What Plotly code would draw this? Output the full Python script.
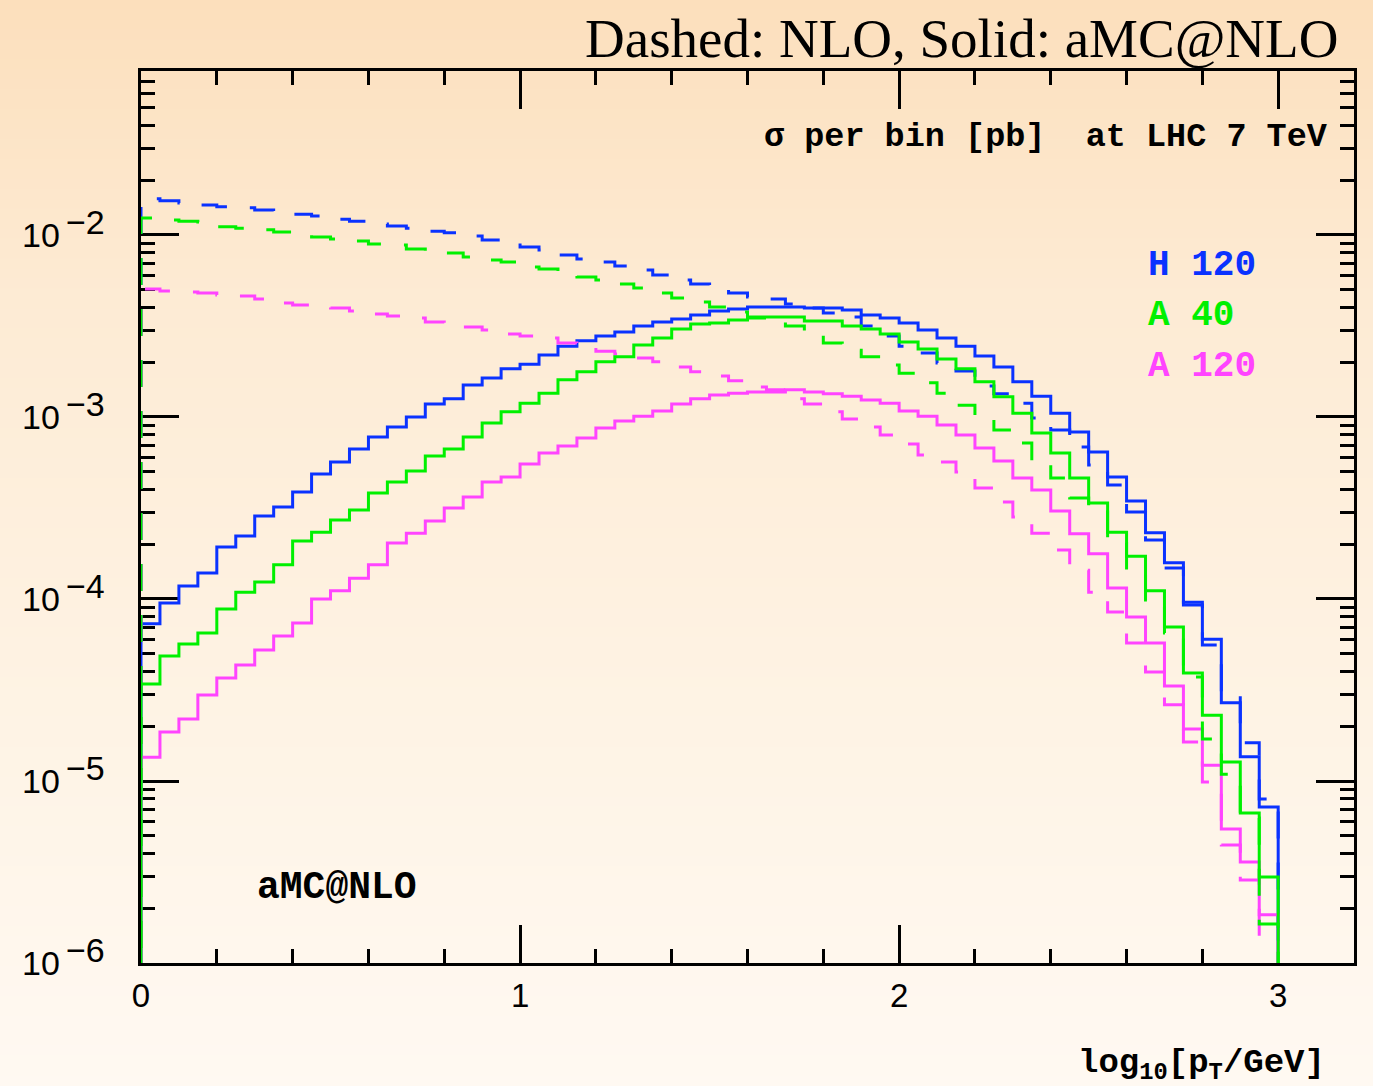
import numpy as np
import plotly.graph_objects as go

# ---- binning: 60 bins of width 0.05 in log10(pT/GeV) ----
BIN_WIDTH = 0.05
N_BINS = 60
bin_edges = np.arange(N_BINS + 1) * BIN_WIDTH

# ---- cross section per bin [pb] ----
h120_amc = [7.3e-5, 9.5e-5, 1.18e-4, 1.39e-4, 1.93e-4, 2.22e-4, 2.86e-4, 3.20e-4, 3.87e-4, 4.86e-4,
            5.66e-4, 6.67e-4, 7.76e-4, 8.81e-4, 1.00e-3, 1.18e-3, 1.26e-3, 1.50e-3, 1.64e-3, 1.84e-3,
            1.95e-3, 2.19e-3, 2.45e-3, 2.62e-3, 2.79e-3, 2.93e-3, 3.16e-3, 3.33e-3, 3.45e-3, 3.63e-3,
            3.82e-3, 3.92e-3, 4.02e-3, 4.02e-3, 4.02e-3, 3.97e-3, 3.97e-3, 3.87e-3, 3.63e-3, 3.50e-3,
            3.28e-3, 3.01e-3, 2.72e-3, 2.45e-3, 2.16e-3, 1.88e-3, 1.56e-3, 1.30e-3, 1.05e-3, 8.28e-4,
            6.43e-4, 4.68e-4, 3.45e-4, 2.31e-4, 1.58e-4, 9.6e-5, 6.0e-5, 2.69e-5, 1.36e-5, 7.2e-6]
h120_nlo = [1.58e-2, 1.54e-2, 1.50e-2, 1.46e-2, 1.43e-2, 1.41e-2, 1.37e-2, 1.34e-2, 1.30e-2, 1.27e-2,
            1.22e-2, 1.19e-2, 1.15e-2, 1.12e-2, 1.09e-2, 1.05e-2, 1.03e-2, 9.87e-3, 9.39e-3, 9.15e-3,
            8.59e-3, 8.27e-3, 7.77e-3, 7.38e-3, 7.11e-3, 6.76e-3, 6.42e-3, 6.03e-3, 5.66e-3, 5.38e-3,
            5.11e-3, 4.80e-3, 4.56e-3, 4.45e-3, 4.18e-3, 3.97e-3, 3.73e-3, 3.54e-3, 3.16e-3, 2.79e-3,
            2.45e-3, 2.25e-3, 1.98e-3, 1.79e-3, 1.48e-3, 1.34e-3, 1.19e-3, 9.87e-4, 8.48e-4, 6.84e-4,
            5.45e-4, 4.23e-4, 3.01e-4, 2.11e-4, 1.48e-4, 9.27e-5, 5.59e-5, 3.04e-5, 1.62e-5, 7.96e-6]
a40_amc = [3.41e-5, 4.86e-5, 5.66e-5, 6.51e-5, 8.81e-5, 1.09e-4, 1.24e-4, 1.54e-4, 2.08e-4, 2.33e-4,
           2.72e-4, 3.08e-4, 3.82e-4, 4.39e-4, 5.05e-4, 6.11e-4, 6.67e-4, 7.76e-4, 9.27e-4, 1.07e-3,
           1.19e-3, 1.35e-3, 1.60e-3, 1.77e-3, 2.01e-3, 2.14e-3, 2.49e-3, 2.72e-3, 3.04e-3, 3.24e-3,
           3.28e-3, 3.41e-3, 3.54e-3, 3.54e-3, 3.54e-3, 3.37e-3, 3.37e-3, 3.16e-3, 3.04e-3, 2.86e-3,
           2.58e-3, 2.36e-3, 2.08e-3, 1.84e-3, 1.56e-3, 1.29e-3, 1.05e-3, 8.17e-4, 6.34e-4, 4.62e-4,
           3.37e-4, 2.33e-4, 1.72e-4, 1.11e-4, 7.02e-5, 3.92e-5, 2.30e-5, 1.27e-5, 6.67e-6, 2.97e-6]
a40_nlo = [1.24e-2, 1.21e-2, 1.19e-2, 1.18e-2, 1.11e-2, 1.09e-2, 1.07e-2, 1.04e-2, 1.03e-2, 9.75e-3,
           9.51e-3, 9.27e-3, 8.92e-3, 8.81e-3, 8.38e-3, 8.17e-3, 7.96e-3, 7.57e-3, 7.29e-3, 7.11e-3,
           6.67e-3, 6.51e-3, 6.11e-3, 5.88e-3, 5.66e-3, 5.38e-3, 5.11e-3, 4.80e-3, 4.51e-3, 4.28e-3,
           4.02e-3, 3.78e-3, 3.50e-3, 3.33e-3, 3.16e-3, 2.82e-3, 2.55e-3, 2.33e-3, 2.14e-3, 1.93e-3,
           1.74e-3, 1.54e-3, 1.35e-3, 1.16e-3, 1.01e-3, 8.48e-4, 7.20e-4, 5.66e-4, 4.62e-4, 3.59e-4,
           3.01e-4, 2.03e-4, 1.44e-4, 9.87e-5, 6.51e-5, 3.73e-5, 1.70e-5, 1.09e-5, 6.26e-6, 1.64e-6]
a120_amc = [1.35e-5, 1.86e-5, 2.19e-5, 2.97e-5, 3.68e-5, 4.34e-5, 5.25e-5, 6.26e-5, 7.38e-5, 1.00e-4,
            1.11e-4, 1.30e-4, 1.54e-4, 2.03e-4, 2.30e-4, 2.68e-4, 3.16e-4, 3.63e-4, 4.39e-4, 4.68e-4,
            5.52e-4, 6.34e-4, 6.93e-4, 7.66e-4, 8.70e-4, 9.51e-4, 1.01e-3, 1.08e-3, 1.18e-3, 1.26e-3,
            1.32e-3, 1.35e-3, 1.37e-3, 1.37e-3, 1.41e-3, 1.37e-3, 1.34e-3, 1.30e-3, 1.24e-3, 1.19e-3,
            1.08e-3, 1.01e-3, 9.04e-4, 7.96e-4, 6.75e-4, 5.73e-4, 4.62e-4, 3.97e-4, 3.04e-4, 2.28e-4,
            1.77e-4, 1.15e-4, 7.96e-5, 5.73e-5, 3.33e-5, 1.93e-5, 1.22e-5, 5.45e-6, 3.59e-6, 1.84e-6]
a120_nlo = [5.05e-3, 4.92e-3, 4.86e-3, 4.80e-3, 4.68e-3, 4.62e-3, 4.45e-3, 4.23e-3, 4.12e-3, 4.02e-3,
            3.97e-3, 3.82e-3, 3.68e-3, 3.59e-3, 3.50e-3, 3.33e-3, 3.20e-3, 3.12e-3, 3.01e-3, 2.86e-3,
            2.79e-3, 2.72e-3, 2.55e-3, 2.42e-3, 2.30e-3, 2.22e-3, 2.11e-3, 2.01e-3, 1.88e-3, 1.77e-3,
            1.68e-3, 1.58e-3, 1.46e-3, 1.41e-3, 1.26e-3, 1.18e-3, 1.07e-3, 9.75e-4, 8.81e-4, 7.96e-4,
            7.11e-4, 6.18e-4, 5.66e-4, 4.99e-4, 4.07e-4, 3.41e-4, 2.82e-4, 2.30e-4, 1.86e-4, 1.44e-4,
            1.09e-4, 8.48e-5, 5.73e-5, 3.97e-5, 2.62e-5, 1.64e-5, 9.87e-6, 4.45e-6, 2.86e-6, 1.34e-6]

series_labels = ["H 120", "A 40", "A 120"]
series_colors = ["#0a32ff", "#00f000", "#ff44ff"]
x_tick_values = [0, 1, 2, 3]
y_decades = [-6, -5, -4, -3, -2]

FLOOR = 1e-9          # below the visible range: histogram edges drop out of the frame
MONO = "Liberation Mono"
SANS = "Liberation Sans"
SERIF = "Liberation Serif"

W, H = 1373, 1086
L, R, T, B = 141, 19, 71, 123
PW, PH = W - L - R, H - T - B


def px_x(p):
    return (p - L) / PW


def px_y(p):
    return (H - B - p) / PH


def step_xy(vals):
    xs = [bin_edges[0]] + list(bin_edges[:-1]) + [bin_edges[-1], bin_edges[-1]]
    ys = [FLOOR] + list(vals) + [vals[-1], FLOOR]
    return xs, ys


fig = go.Figure()

# background: warm vertical gradient over the whole page
stops = [(0, (252, 223, 188)), (300, (253, 235, 212)), (650, (254, 242, 226)), (H, (255, 249, 242))]
n_strips = 109
for i in range(n_strips):
    y0 = i * H / n_strips
    y1 = (i + 1) * H / n_strips
    ym = 0.5 * (y0 + y1)
    for (a, ca), (b, cb) in zip(stops[:-1], stops[1:]):
        if a <= ym <= b:
            t = (ym - a) / (b - a)
            c = tuple(round(ca[k] + t * (cb[k] - ca[k])) for k in range(3))
            break
    fig.add_shape(type="rect", xref="paper", yref="paper",
                  x0=px_x(0), x1=px_x(W), y0=px_y(y1 + 0.5), y1=px_y(y0 - 0.5),
                  fillcolor="rgb(%d,%d,%d)" % c, line_width=0, layer="below")

histograms = [
    (h120_nlo, h120_amc, series_colors[0]),
    (a120_nlo, a120_amc, series_colors[2]),
    (a40_nlo, a40_amc, series_colors[1]),
]
for nlo, amc, col in histograms:
    xs, ys = step_xy(nlo)
    fig.add_trace(go.Scatter(x=xs, y=ys, mode="lines", line_shape="hv",
                             line=dict(color=col, width=3, dash="27px,24px"),
                             showlegend=False, hoverinfo="skip"))
    xs, ys = step_xy(amc)
    fig.add_trace(go.Scatter(x=xs, y=ys, mode="lines", line_shape="hv",
                             line=dict(color=col, width=3),
                             showlegend=False, hoverinfo="skip"))

axis_common = dict(showline=True, linewidth=3, linecolor="black", mirror="ticks",
                   ticks="inside", ticklen=38, tickwidth=3, tickcolor="black",
                   showgrid=False, zeroline=False, layer="below traces")

fig.update_xaxes(range=[0, 3.2], tickvals=x_tick_values,
                 ticktext=[str(v) for v in x_tick_values],
                 tickfont=dict(family=SANS, size=33, color="black"),
                 ticklabelstandoff=1,
                 minor=dict(ticks="inside", ticklen=14, tickwidth=3, tickcolor="black",
                            dtick=0.2, tick0=0, showgrid=False),
                 **axis_common)
fig.update_yaxes(type="log", range=[-6, -1.099], dtick=1, tick0=0, showticklabels=False,
                 minor=dict(ticks="inside", ticklen=14, tickwidth=3, tickcolor="black",
                            dtick="D1", showgrid=False),
                 **axis_common)

ann = []
# y tick labels: 10 with a full-size raised exponent
for k in y_decades:
    ann.append(dict(text="10", xref="paper", yref="y", x=px_x(62), y=k,
                    xanchor="right", yanchor="middle", showarrow=False,
                    font=dict(family=SANS, size=34, color="black")))
    ann.append(dict(text="\u2212%d" % abs(k), xref="paper", yref="y", x=px_x(64), y=k,
                    xanchor="left", yanchor="middle", yshift=13, showarrow=False,
                    font=dict(family=SANS, size=34, color="black")))

ann.append(dict(text="Dashed: NLO, Solid: aMC@NLO", xref="paper", yref="paper",
                x=px_x(1340), y=px_y(38), xanchor="right", yanchor="middle", showarrow=False,
                font=dict(family=SERIF, size=55, color="black")))
ann.append(dict(text="<b>\u03c3 per bin [pb]\u00a0\u00a0at LHC 7 TeV</b>", xref="paper", yref="paper",
                x=px_x(1330), y=px_y(137), xanchor="right", yanchor="middle", showarrow=False,
                font=dict(family=MONO, size=33.5, color="black")))
for label, col, py in zip(series_labels, series_colors, [265, 315, 366]):
    ann.append(dict(text="<b>%s</b>" % label, xref="paper", yref="paper",
                    x=px_x(1146), y=px_y(py), xanchor="left", yanchor="middle", showarrow=False,
                    font=dict(family=MONO, size=36, color=col)))
ann.append(dict(text="<b>aMC@NLO</b>", xref="paper", yref="paper",
                x=px_x(255), y=px_y(887), xanchor="left", yanchor="middle", showarrow=False,
                font=dict(family=MONO, size=38, color="black")))
ann.append(dict(text="<b>log<sub>10</sub>[p<sub>T</sub>/GeV]</b>", xref="paper", yref="paper",
                x=px_x(1327), y=px_y(1065), xanchor="right", yanchor="middle", showarrow=False,
                font=dict(family=MONO, size=34, color="black")))

fig.update_layout(width=W, height=H, autosize=False,
                  margin=dict(l=L, r=R, t=T, b=B, pad=0),
                  paper_bgcolor="rgb(255,249,242)", plot_bgcolor="rgba(0,0,0,0)",
                  annotations=ann, showlegend=False)

fig.write_html("out.html")
